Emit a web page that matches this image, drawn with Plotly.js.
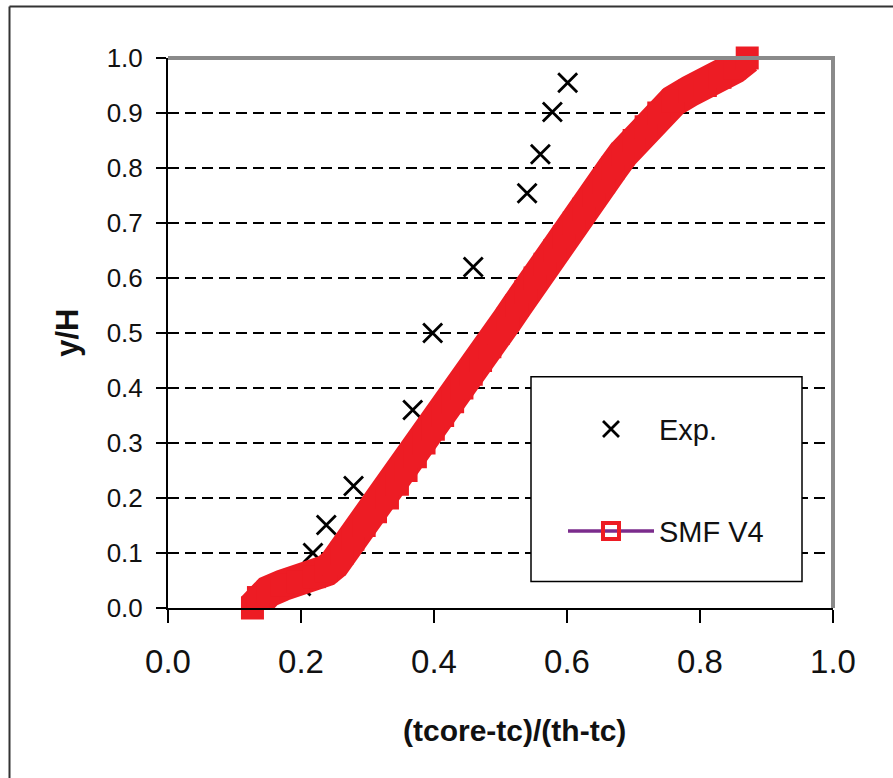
<!DOCTYPE html>
<html>
<head>
<meta charset="utf-8">
<script src="https://cdn.plot.ly/plotly-3.0.1.min.js"></script>
<style>html,body{margin:0;padding:0;background:#fff;}#chart{width:893px;height:778px;}</style>
</head>
<body>
<div id="chart"></div>
<script>
// Experimental data (Exp.)
const expX = [0.200, 0.218, 0.238, 0.279, 0.368, 0.398, 0.459, 0.540, 0.560, 0.578, 0.601];
const expY = [0.040, 0.100, 0.151, 0.222, 0.360, 0.500, 0.620, 0.754, 0.825, 0.902, 0.955];

// Simulation (SMF V4)
const smfX = [0.127, 0.136, 0.151, 0.172, 0.196, 0.220, 0.238, 0.250, 0.262, 0.278,
              0.295, 0.312, 0.330, 0.345, 0.358, 0.372, 0.385, 0.399, 0.413, 0.428,
              0.442, 0.456, 0.470, 0.484, 0.497, 0.511, 0.525, 0.538, 0.552, 0.567,
              0.582, 0.596, 0.611, 0.625, 0.640, 0.655, 0.669, 0.684, 0.701, 0.719,
              0.738, 0.760, 0.785, 0.808, 0.830, 0.852, 0.871];
const smfY = [0.000, 0.019, 0.030, 0.041, 0.048, 0.057, 0.068, 0.080, 0.100, 0.125,
              0.150, 0.175, 0.200, 0.225, 0.250, 0.275, 0.300, 0.325, 0.350, 0.375,
              0.400, 0.425, 0.450, 0.475, 0.500, 0.525, 0.550, 0.575, 0.600, 0.625,
              0.650, 0.675, 0.700, 0.725, 0.750, 0.775, 0.800, 0.825, 0.850, 0.875,
              0.900, 0.922, 0.940, 0.950, 0.965, 0.982, 1.000];

const xTickVals = [0, 0.2, 0.4, 0.6, 0.8, 1.0];
const xTickText = ['0.0', '0.2', '0.4', '0.6', '0.8', '1.0'];
const yTickVals = [0, 0.1, 0.2, 0.3, 0.4, 0.5, 0.6, 0.7, 0.8, 0.9, 1.0];
const yTickText = ['0.0', '0.1', '0.2', '0.3', '0.4', '0.5', '0.6', '0.7', '0.8', '0.9', '1.0'];

const RED = '#ed1c24';
const PURPLE = '#7b2c8c';
const FONT = 'Liberation Sans, Arial, sans-serif';

const traces = [
  {
    name: 'Exp.', x: expX, y: expY, mode: 'markers', type: 'scatter',
    marker: {symbol: 'x-thin-open', size: 19, color: '#000', line: {color: '#000', width: 2.8}},
    legend: 'legend', showlegend: true, cliponaxis: false
  },
  {
    name: 'SMF V4', x: smfX, y: smfY, mode: 'lines+markers', type: 'scatter',
    line: {color: RED, width: 32},
    marker: {symbol: 'square', size: 23, color: RED, line: {width: 0}},
    showlegend: false, cliponaxis: false
  },
  {
    name: 'SMF V4', x: [null], y: [null], mode: 'lines+markers', type: 'scatter',
    line: {color: PURPLE, width: 3.5},
    marker: {symbol: 'square-open', size: 16, color: RED, line: {color: RED, width: 4}},
    legend: 'legend2', showlegend: true
  }
];

const px2x = p => (p - 168) / 665;
const py2y = p => (608.5 - p) / 550.5;

const layout = {
  width: 893, height: 778,
  margin: {l: 168, r: 60, t: 58, b: 170, pad: 0},
  paper_bgcolor: '#fff', plot_bgcolor: '#fff',
  font: {family: FONT, color: '#111'},
  xaxis: {
    range: [0, 1], tickvals: xTickVals, ticktext: xTickText,
    ticks: 'outside', ticklen: 13, tickwidth: 1.5, tickcolor: '#000',
    showline: true, linecolor: '#000', linewidth: 2,
    showgrid: false, zeroline: false, ticklabelstandoff: 10,
    tickfont: {family: FONT, size: 33, color: '#111'}
  },
  yaxis: {
    range: [0, 1], tickvals: yTickVals, ticktext: yTickText,
    ticks: 'outside', ticklen: 10, tickwidth: 1.5, tickcolor: '#000',
    showline: true, linecolor: '#000', linewidth: 2,
    showgrid: true, gridcolor: '#000', gridwidth: 1.5, griddash: '11px,6px',
    zeroline: false, ticklabelstandoff: 8,
    tickfont: {family: FONT, size: 26, color: '#111'}
  },
  showlegend: true,
  legend: {
    x: px2x(563), y: py2y(404), xanchor: 'left', yanchor: 'top',
    bgcolor: 'rgba(0,0,0,0)', borderwidth: 0, itemwidth: 86,
    font: {family: FONT, size: 29, color: '#111'}
  },
  legend2: {
    x: px2x(563), y: py2y(506), xanchor: 'left', yanchor: 'top',
    bgcolor: 'rgba(0,0,0,0)', borderwidth: 0, itemwidth: 86,
    font: {family: FONT, size: 29, color: '#111'}
  },
  shapes: [
    {type: 'line', xref: 'paper', yref: 'paper', x0: px2x(9.5), x1: px2x(9.5), y0: py2y(800), y1: py2y(6.5), line: {color: '#333', width: 2}},
    {type: 'line', xref: 'paper', yref: 'paper', x0: px2x(9.5), x1: px2x(900), y0: py2y(6.5), y1: py2y(6.5), line: {color: '#333', width: 2}},
    {type: 'line', xref: 'paper', yref: 'paper', x0: 0, x1: 1.003, y0: 1, y1: 1, line: {color: '#8a8a8a', width: 4}, layer: 'above'},
    {type: 'line', xref: 'paper', yref: 'paper', x0: 1, x1: 1, y0: 0, y1: 1.003, line: {color: '#8a8a8a', width: 4}, layer: 'above'},
    {type: 'rect', xref: 'paper', yref: 'paper', x0: px2x(531), x1: px2x(802), y0: py2y(582), y1: py2y(377), line: {color: '#000', width: 1.5}, fillcolor: '#fff', layer: 'above'}
  ],
  annotations: [
    {text: '<b>(tcore-tc)/(th-tc)</b>', xref: 'paper', yref: 'paper', x: px2x(514), y: py2y(731), xanchor: 'center', yanchor: 'middle', showarrow: false, font: {family: FONT, size: 30, color: '#111'}},
    {text: '<b>y/H</b>', xref: 'paper', yref: 'paper', x: px2x(68), y: py2y(333), xanchor: 'center', yanchor: 'middle', textangle: -90, showarrow: false, font: {family: FONT, size: 31, color: '#111'}}
  ]
};

Plotly.newPlot('chart', traces, layout, {displayModeBar: false, staticPlot: true});
</script>
</body>
</html>
